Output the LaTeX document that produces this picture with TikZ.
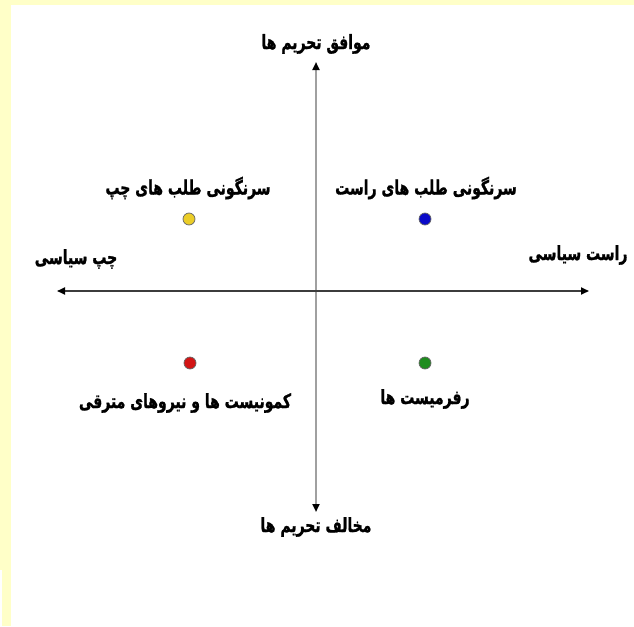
\documentclass[tikz,border=0pt]{standalone}
\usepackage{fontspec}
\usepackage{graphicx}
\usetikzlibrary{arrows.meta}
\TeXXeTstate=1
\newfontfamily\arabicfont[Script=Arabic,FakeBold=1.4]{DejaVu Sans Bold}
\definecolor{bgyellow}{RGB}{255,255,200}
\definecolor{axisgray}{RGB}{160,160,160}
\definecolor{axisdark}{RGB}{60,60,60}
\definecolor{dotyellow}{RGB}{235,205,40}
\definecolor{dotblue}{RGB}{10,10,200}
\definecolor{dotred}{RGB}{210,20,20}
\definecolor{dotgreen}{RGB}{30,140,30}
\newcommand{\fa}[1]{\scalebox{1}[1.4]{\beginR #1\endR}}
\begin{document}
\begin{tikzpicture}[x=1pt,y=-1pt,
  lbl/.style={font=\arabicfont\fontsize{14}{16}\selectfont, inner sep=0pt},
  dot/.style={circle, minimum size=12pt, inner sep=0pt, draw=black!60, line width=0.7pt},
  tip/.style={-{Triangle[length=8pt,width=7pt,color=black]}}
]
\useasboundingbox (0,0) rectangle (634,626);
\fill[bgyellow] (0,0) rectangle (634,626);
\fill[white] (11,5) rectangle (634,626);
\fill[white] (0,570) rectangle (2,626);
% axes
\coordinate (c) at (316,291);
\coordinate (top) at (316,62);
\coordinate (bot) at (316,512);
\coordinate (left) at (57,291);
\coordinate (right) at (589,291);
\draw[axisgray, line width=2.4pt, tip] (c) -- (top);
\draw[axisgray, line width=2.4pt, tip] (c) -- (bot);
\draw[axisdark, line width=1.8pt, tip] (c) -- (left);
\draw[axisdark, line width=1.8pt, tip] (c) -- (right);
% axis labels
\node[lbl] (ltop) at (316,44) {\fa{موافق تحریم ها}};
\node[lbl] (lbot) at (316,527) {\fa{مخالف تحریم ها}};
\node[lbl] (lleft) at (76,259) {\fa{چپ سیاسی}};
\node[lbl] (lright) at (578,255) {\fa{راست سیاسی}};
% dots
\node[dot, fill=dotyellow] (d1) at (189,219) {};
\node[dot, fill=dotblue] (d2) at (425,219) {};
\node[dot, fill=dotred] (d3) at (190,363) {};
\node[dot, fill=dotgreen] (d4) at (425,363) {};
% dot labels
\node[lbl] (t1) at (188,188) {\fa{سرنگونی طلب های چپ}};
\node[lbl] (t2) at (426,188) {\fa{سرنگونی طلب های راست}};
\node[lbl] (t3) at (185,403) {\fa{کمونیست ها و نیروهای مترقی}};
\node[lbl] (t4) at (425,399) {\fa{رفرمیست ها}};
\end{tikzpicture}
\end{document}
